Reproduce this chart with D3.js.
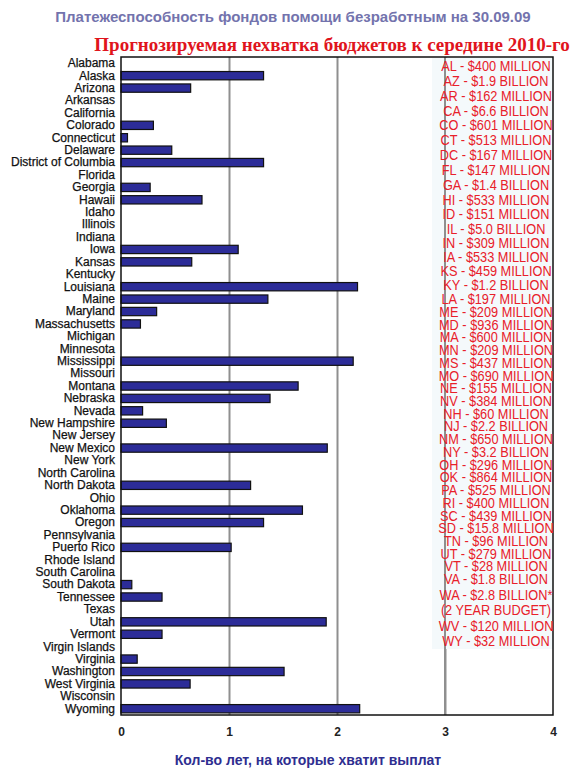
<!DOCTYPE html>
<html>
<head>
<meta charset="utf-8">
<script src="https://cdn.jsdelivr.net/npm/d3@7"></script>
<style>
  body { margin: 0; background: #fff; }
  svg { display: block; font-family: "Liberation Sans", Arial, sans-serif; }
</style>
</head>
<body>
<div id="chart"></div>
<script>
// ---------- data

const states = ["Alabama","Alaska","Arizona","Arkansas","California","Colorado","Connecticut","Delaware",
  "District of Columbia","Florida","Georgia","Hawaii","Idaho","Illinois","Indiana","Iowa","Kansas","Kentucky",
  "Louisiana","Maine","Maryland","Massachusetts","Michigan","Minnesota","Mississippi","Missouri","Montana",
  "Nebraska","Nevada","New Hampshire","New Jersey","New Mexico","New York","North Carolina","North Dakota",
  "Ohio","Oklahoma","Oregon","Pennsylvania","Puerto Rico","Rhode Island","South Carolina","South Dakota",
  "Tennessee","Texas","Utah","Vermont","Virgin Islands","Virginia","Washington","West Virginia","Wisconsin","Wyoming"]

// years of benefits left (null = fund already insolvent, no bar)
const yearsLeft = [null,1.32,0.645,null,null,0.30,0.06,0.47,
  1.32,null,0.27,0.75,null,null,null,1.085,0.655,null,
  2.19,1.36,0.33,0.18,null,null,2.15,null,1.64,
  1.38,0.20,0.42,null,1.91,null,null,1.20,
  null,1.68,1.32,null,1.02,null,null,0.10,
  0.38,null,1.90,0.38,null,0.15,1.51,0.64,null,2.21]

const shortfalls = ["AL - $400 MILLION","AZ - $1.9 BILLION","AR - $162 MILLION","CA - $6.6 BILLION",
  "CO - $601 MILLION","CT - $513 MILLION","DC - $167 MILLION","FL - $147 MILLION","GA - $1.4 BILLION",
  "HI - $533 MILLION","ID - $151 MILLION","IL - $5.0 BILLION","IN - $309 MILLION","IA - $533 MILLION",
  "KS - $459 MILLION","KY - $1.2 BILLION","LA - $197 MILLION","ME - $209 MILLION","MD - $936 MILLION",
  "MA - $600 MILLION","MN - $209 MILLION","MS - $437 MILLION","MO - $690 MILLION","NE - $155 MILLION",
  "NV - $384 MILLION","NH - $60 MILLION","NJ - $2.2 BILLION","NM - $650 MILLION","NY - $3.2 BILLION",
  "OH - $296 MILLION","OK - $864 MILLION","PA - $525 MILLION","RI - $400 MILLION","SC - $439 MILLION",
  "SD - $15.8 MILLION","TN - $96 MILLION","UT - $279 MILLION","VT - $28 MILLION","VA - $1.8 BILLION",
  "WA - $2.8 BILLION*","(2 YEAR BUDGET)","WV - $120 MILLION","WY - $32 MILLION"]

const xTicks = [0,1,2,3,4]

const title = "Платежеспособность фондов помощи безработным на 30.09.09"
const subtitle = "Прогнозируемая нехватка бюджетов к середине 2010-го"
const xTitle = "Кол-во лет, на которые хватит выплат"

// ---------- dimensions

const dims = {
  width: 580,
  height: 777,
  margin: { top: 57, right: 27, bottom: 62, left: 121 }
}
dims.boundedWidth = dims.width - dims.margin.left - dims.margin.right
dims.boundedHeight = dims.height - dims.margin.top - dims.margin.bottom

const svg = d3.select("#chart").append("svg")
  .attr("width", dims.width)
  .attr("height", dims.height)

svg.append("rect").attr("width", dims.width).attr("height", dims.height).attr("fill", "#fff")

const bounds = svg.append("g")
  .attr("transform", `translate(${dims.margin.left},${dims.margin.top})`)

// ---------- scales

const xScale = d3.scaleLinear()
  .domain([0, 4])
  .range([0, dims.boundedWidth])

const yScale = d3.scaleBand()
  .domain(states)
  .range([0, dims.boundedHeight])
  .paddingInner(0.33)
  .paddingOuter(0.17)

// ---------- grid + axes

const grid = bounds.append("g")
  .call(d3.axisBottom(xScale).tickValues([1, 2, 3]).tickSize(dims.boundedHeight).tickFormat(""))
grid.select(".domain").remove()
grid.selectAll("line").attr("stroke", "#8f8f8f").attr("stroke-width", 2)

// light panel behind the shortfall list
bounds.append("rect")
  .attr("x", xScale(2.88))
  .attr("y", 1)
  .attr("width", xScale(4) - xScale(2.88))
  .attr("height", 591)
  .attr("fill", "#f4f9fb")

bounds.append("line")
  .attr("x1", xScale(3)).attr("x2", xScale(3))
  .attr("y1", 0).attr("y2", dims.boundedHeight)
  .attr("stroke", "#8f8f8f").attr("stroke-width", 2)

const xAxis = bounds.append("g")
  .attr("transform", `translate(0,${dims.boundedHeight})`)
  .call(d3.axisBottom(xScale).tickValues(xTicks).tickSize(0).tickPadding(12).tickFormat(d3.format("d")))
xAxis.select(".domain").remove()
xAxis.selectAll("text")
  .attr("font-size", 12).attr("font-weight", "bold").attr("fill", "#222")
  .attr("font-family", "Liberation Sans, Arial, sans-serif")

const yAxis = bounds.append("g")
  .call(d3.axisLeft(yScale).tickSize(0).tickPadding(6))
yAxis.select(".domain").remove()
yAxis.selectAll("text")
  .attr("font-size", 12).attr("fill", "#111")
  .attr("font-family", "Liberation Sans, Arial, sans-serif")
  .attr("stroke", "#111").attr("stroke-width", 0.25)

// ---------- bars

bounds.append("g").selectAll("rect")
  .data(states.map((s, i) => ({ state: s, value: yearsLeft[i] })).filter(d => d.value != null))
  .join("rect")
  .attr("x", xScale(0))
  .attr("y", d => yScale(d.state))
  .attr("width", d => xScale(d.value) - xScale(0))
  .attr("height", yScale.bandwidth())
  .attr("fill", "#2c2c98")
  .attr("stroke", "#111")
  .attr("stroke-width", 1.2)

// plot frame
bounds.append("rect")
  .attr("width", dims.boundedWidth)
  .attr("height", dims.boundedHeight)
  .attr("fill", "none")
  .attr("stroke", "#111")
  .attr("stroke-width", 1.5)

// ---------- shortfall list (red)

const lineY = d3.scaleLinear()
  .domain([0, 11, 16, 38, 42])
  .range([66, 229, 299, 579, 641])

const listX = 496
svg.append("g").selectAll("text")
  .data(shortfalls)
  .join("text")
  .attr("transform", (d, i) => `translate(${listX},${lineY(i)}) scale(0.88,1)`)
  .attr("dy", "0.36em")
  .attr("text-anchor", "middle")
  .attr("font-size", 14.5)
  .attr("fill", "#e8202a")
  .text(d => d)

// ---------- titles

svg.append("text")
  .attr("x", 293).attr("y", 22)
  .attr("text-anchor", "middle")
  .attr("font-size", 15)
  .attr("font-weight", "bold")
  .attr("fill", "#7373ad")
  .text(title)

svg.append("text")
  .attr("x", 332).attr("y", 51)
  .attr("text-anchor", "middle")
  .attr("font-family", "Liberation Serif, Times New Roman, serif")
  .attr("font-size", 19)
  .attr("font-weight", "bold")
  .attr("fill", "#e0141c")
  .text(subtitle)

svg.append("text")
  .attr("x", 308).attr("y", 765)
  .attr("text-anchor", "middle")
  .attr("font-size", 14)
  .attr("font-weight", "bold")
  .attr("fill", "#2e2e90")
  .text(xTitle)
</script>
</body>
</html>
